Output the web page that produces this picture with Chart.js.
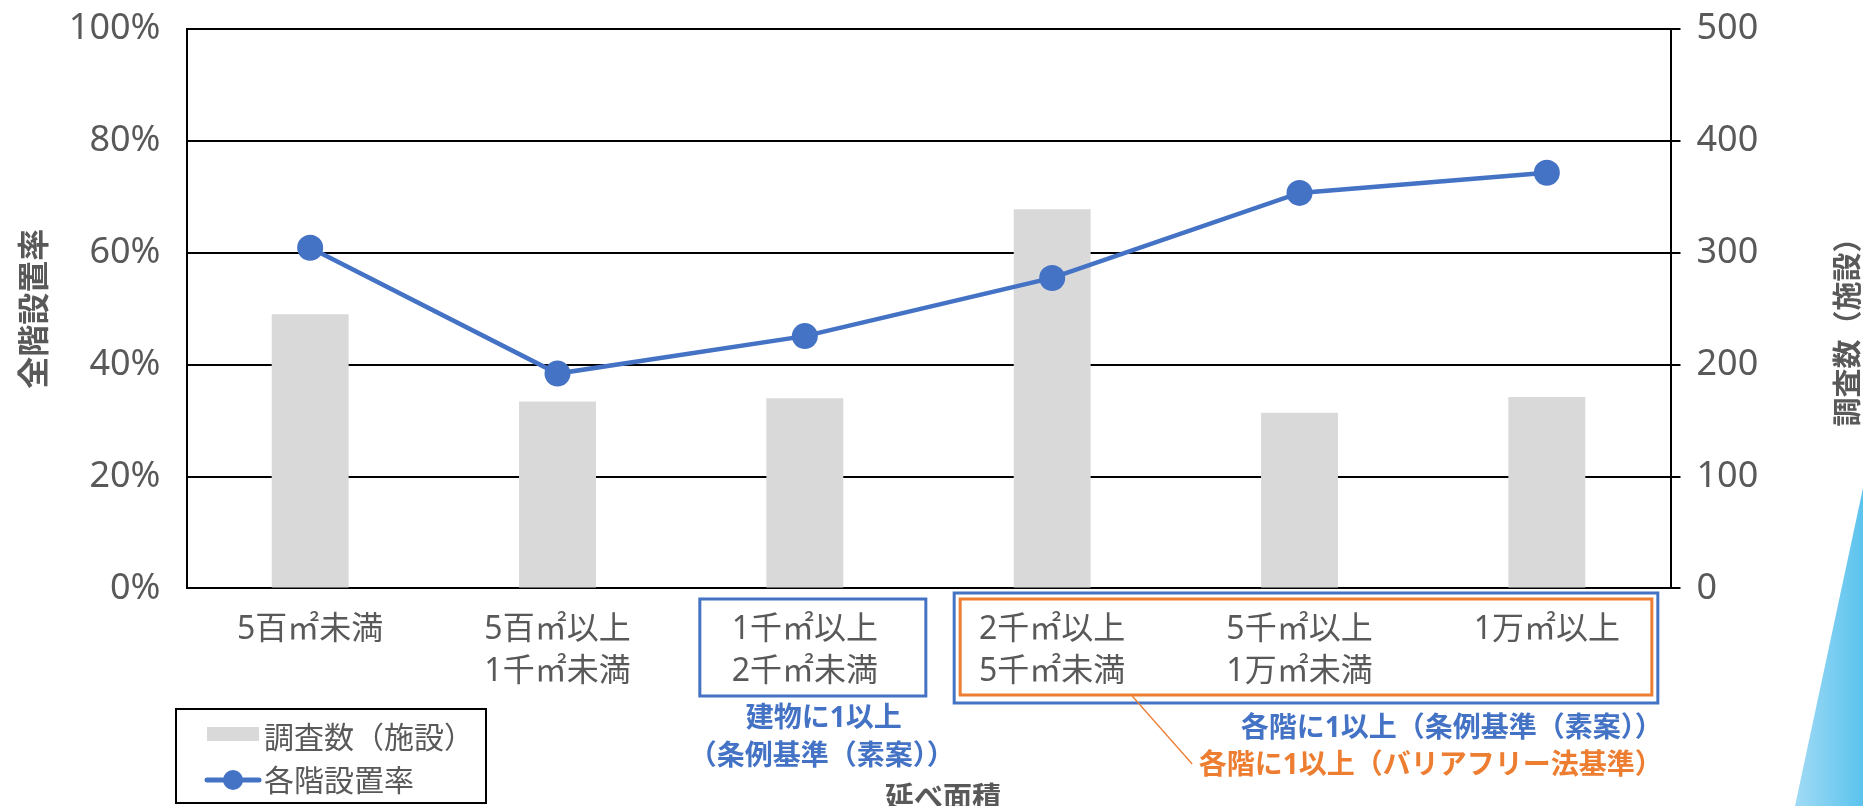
<!DOCTYPE html>
<html><head><meta charset="utf-8">
<script src="https://cdn.jsdelivr.net/npm/chart.js@4"></script>
<style>html,body{margin:0;padding:0;background:#fff;} canvas{display:block;}</style>
</head><body>
<canvas id="c" width="1863" height="806"></canvas>
<script>
// ---- data ----
const categories = ['5百㎡未満', ['5百㎡以上','1千㎡未満'], ['1千㎡以上','2千㎡未満'], ['2千㎡以上','5千㎡未満'], ['5千㎡以上','1万㎡未満'], '1万㎡以上'];
const surveyCounts = [245, 167, 170, 339, 157, 171];
const installRates = [60.9, 38.4, 45.1, 55.5, 70.7, 74.3];
const rateTicks = [0, 20, 40, 60, 80, 100];
const countTicks = [0, 100, 200, 300, 400, 500];
const barLabel = '調査数（施設）';
const lineLabel = '各階設置率';
const xTitle = '延べ面積';
const yTitle = '全階設置率';
const y1Title = '調査数（施設）';
const note1 = ['建物に1以上', '（条例基準（素案））'];
const note2 = '各階に1以上（条例基準（素案））';
const note3 = '各階に1以上（バリアフリー法基準）';

// ---- styles ----
const GRAY = '#595959', BLUE = '#4472C4', ORANGE = '#ED7D31', BARGRAY = '#D9D9D9';
const CJK = "'Noto Sans CJK JP', sans-serif";
const MIX = "'Noto Sans', 'Noto Sans CJK JP', sans-serif";

const decor = {
  id: 'decor',
  beforeDraw(chart) {
    const ctx = chart.ctx, W = chart.width, H = chart.height;
    ctx.save();
    const g = ctx.createLinearGradient(W - 70, 0, W, 0);
    g.addColorStop(0, '#a3dbf5');
    g.addColorStop(1, '#5bc3ee');
    ctx.fillStyle = g;
    ctx.beginPath(); ctx.moveTo(W, 488); ctx.lineTo(W, H); ctx.lineTo(W - 68, H); ctx.closePath(); ctx.fill();
    ctx.restore();
  },
  afterDraw(chart) {
    const ctx = chart.ctx, xs = chart.scales.x;
    const c = i => xs.getPixelForValue(i);
    ctx.save();
    // annotation boxes
    ctx.lineWidth = 3;
    ctx.strokeStyle = BLUE;
    ctx.strokeRect(c(2) - 105, 599, 226, 97);
    ctx.strokeRect(c(3) - 98, 593, (c(5) + 111) - (c(3) - 98), 110);
    ctx.strokeStyle = ORANGE;
    ctx.strokeRect(c(3) - 92, 599, (c(5) + 105) - (c(3) - 92), 96);
    // leader line
    ctx.lineWidth = 1.3;
    ctx.beginPath(); ctx.moveTo(c(3) + 80, 696); ctx.lineTo(c(3) + 140, 764); ctx.stroke();
    // notes
    ctx.textBaseline = 'middle';
    ctx.font = `bold 28px ${MIX}`;
    ctx.fillStyle = BLUE;
    ctx.textAlign = 'center';
    ctx.fillText(note1[0], c(2) + 19, 719);
    ctx.fillText(note1[1], c(2) + 17, 757);
    ctx.textAlign = 'right';
    ctx.fillText(note2, c(5) + 116, 729);
    ctx.fillStyle = ORANGE;
    ctx.fillText(note3, c(5) + 116, 766);
    // x title
    ctx.fillStyle = GRAY;
    ctx.textAlign = 'center';
    ctx.font = `bold 29px ${CJK}`;
    ctx.fillText(xTitle, 943, 797);
    // right title (reads bottom to top)
    ctx.save();
    ctx.translate(1847, 325);
    ctx.rotate(-Math.PI / 2);
    ctx.font = `bold 29px ${CJK}`;
    ctx.fillText(y1Title, 0, 0);
    ctx.restore();
    // legend
    const line = chart.data.datasets[0], bar = chart.data.datasets[1];
    ctx.strokeStyle = '#000'; ctx.lineWidth = 2;
    ctx.strokeRect(176, 709, 310, 94);
    ctx.fillStyle = bar.backgroundColor; ctx.fillRect(207, 727, 52, 14);
    ctx.strokeStyle = line.borderColor; ctx.lineWidth = 5; ctx.lineCap = 'round';
    ctx.beginPath(); ctx.moveTo(207, 780); ctx.lineTo(259, 780); ctx.stroke();
    ctx.fillStyle = line.pointBackgroundColor;
    ctx.beginPath(); ctx.arc(233, 780, 10, 0, Math.PI * 2); ctx.fill();
    ctx.fillStyle = GRAY; ctx.font = `30px ${CJK}`; ctx.textAlign = 'left';
    ctx.fillText(bar.label, 264, 737);
    ctx.fillText(line.label, 264, 780);
    ctx.restore();
  }
};

new Chart(document.getElementById('c'), {
  type: 'bar',
  data: {
    labels: categories,
    datasets: [
      { type: 'line', label: lineLabel, data: installRates, yAxisID: 'y',
        borderColor: BLUE, backgroundColor: BLUE, borderWidth: 4.5,
        pointRadius: 13, pointHoverRadius: 13, pointBorderWidth: 0,
        pointBackgroundColor: BLUE, tension: 0, order: 0 },
      { type: 'bar', label: barLabel, data: surveyCounts, yAxisID: 'y1',
        backgroundColor: BARGRAY, categoryPercentage: 1, barPercentage: 0.311, order: 1 }
    ]
  },
  options: {
    responsive: false,
    animation: false,
    layout: { padding: { top: 29, left: 0, right: 0, bottom: 0 } },
    plugins: { legend: { display: false }, tooltip: { enabled: false } },
    scales: {
      x: {
        grid: { display: false, drawTicks: false },
        border: { display: true, color: '#000', width: 2 },
        ticks: { color: GRAY, font: { family: MIX, size: 32, lineHeight: 1.3 }, padding: 21, maxRotation: 0, autoSkip: false },
        afterFit(s) { s.height = 806 - 588.4; s.paddingLeft = 0; s.paddingRight = 0; }
      },
      y: {
        position: 'left', min: 0, max: 100,
        afterBuildTicks(s) { s.ticks = rateTicks.map(v => ({ value: v })); },
        grid: { display: false, drawTicks: false },
        border: { display: true, color: '#000', width: 2 },
        ticks: { color: GRAY, font: { family: MIX, size: 36 }, padding: 26, callback: v => v + '%' },
        title: { display: true, text: yTitle, color: GRAY, font: { family: CJK, size: 32, weight: 'bold' }, padding: { top: 14, bottom: 0 } },
        afterFit(s) { s.width = 186.5; s.paddingTop = 0; s.paddingBottom = 0; }
      },
      y1: {
        position: 'right', min: 0, max: 500,
        afterBuildTicks(s) { s.ticks = countTicks.map(v => ({ value: v })); },
        grid: { display: true, color: '#000', lineWidth: 2, drawTicks: true, tickLength: 10, tickColor: '#000' },
        border: { display: true, color: '#000', width: 2 },
        ticks: { color: GRAY, font: { family: MIX, size: 36 }, padding: 16 },
        afterFit(s) { s.width = 192.5; s.paddingTop = 0; s.paddingBottom = 0; }
      }
    }
  },
  plugins: [decor]
});
</script>
</body></html>
